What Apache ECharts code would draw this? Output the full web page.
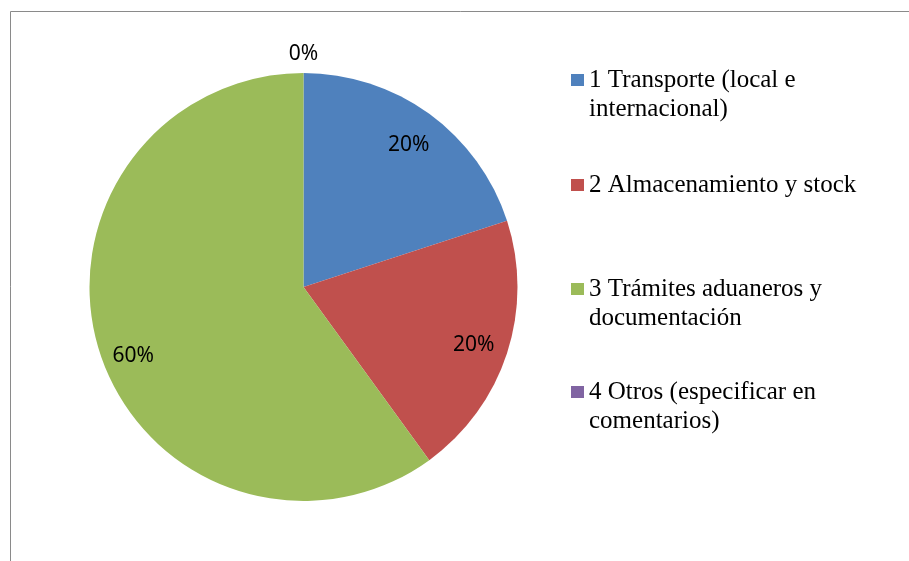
<!DOCTYPE html>
<html lang="es">
<head>
    <meta charset="UTF-8">
    <title>Pie</title>
    <script src="https://cdn.jsdelivr.net/npm/echarts@6/dist/echarts.min.js"></script>
    <style>
        body { margin: 0; background: #fff; }
    </style>
</head>
<body>
<div id="main" style="width:909px;height:561px;"></div>

<script type="text/javascript">
    // categories and values (percent of answers)
    var categories = [
        '1 Transporte (local e internacional)',
        '2 Almacenamiento y stock',
        '3 Trámites aduaneros y documentación',
        '4 Otros (especificar en comentarios)'
    ];
    var values = [20, 20, 60, 0];
    // how the legend text wraps in the original
    var legendLines = [
        ['1 Transporte (local e', 'internacional)'],
        ['2 Almacenamiento y stock'],
        ['3 Trámites aduaneros y', 'documentación'],
        ['4 Otros (especificar en', 'comentarios)']
    ];
    var colors = ['#4F81BD', '#C0504D', '#9BBB59', '#8064A2'];

    var myChart = echarts.init(document.getElementById('main'));

    var cx = 303.5, cy = 287, R = 214;
    var lineH = 29;
    var markerCenters = [80, 185, 289, 392];
    // small label nudges (Excel puts the big slice label a bit lower)
    var labelNudge = [[0, 3], [0, 3], [0, 14], [0, 3]];

    var pieData = [];
    var innerLabelData = [];
    var outerLabelData = [];
    for (var i = 0; i < categories.length; i++) {
        pieData.push({name: categories[i], value: values[i]});
        innerLabelData.push({name: categories[i], value: values[i],
            label: {show: values[i] !== 0, offset: labelNudge[i]}});
        outerLabelData.push({name: categories[i], value: values[i],
            label: {show: values[i] === 0, offset: labelNudge[i]}});
    }

    // one legend per entry so the gaps match; a blank first line keeps
    // the marker level with the first text line
    var legends = [];
    for (var j = 0; j < categories.length; j++) {
        var lines = legendLines[j].slice();
        while (lines.length < 2) lines.push(' ');
        var text = ' \n' + lines.join('\n');
        legends.push({
            orient: 'vertical',
            left: 571,
            top: markerCenters[j] - 1.5 * lineH,
            padding: 0,
            itemWidth: 13,
            itemHeight: 12,
            icon: 'rect',
            selectedMode: false,
            data: [categories[j]],
            formatter: (function (t) {
                return function () { return t; };
            })(text),
            textStyle: {
                fontFamily: 'Liberation Serif',
                fontSize: 25,
                lineHeight: lineH,
                color: '#000'
            }
        });
    }

    var labelFont = {
        fontFamily: 'Noto Sans',
        fontSize: 21,
        color: '#000',
        formatter: '{d}%'
    };

    option = {
        color: colors,
        animation: false,
        graphic: [{
            type: 'rect',
            shape: {x: 10.5, y: 11.5, width: 1000, height: 1000},
            style: {fill: 'none', stroke: '#8a8a8a', lineWidth: 1},
            silent: true,
            z: -10
        }],
        legend: legends,
        series: [
            {
                type: 'pie',
                center: [cx, cy],
                radius: R,
                startAngle: 90,
                clockwise: true,
                silent: true,
                label: {show: false},
                labelLine: {show: false},
                data: pieData
            },
            {
                // label ring: puts the inside labels at ~0.82 of the radius
                type: 'pie',
                center: [cx, cy],
                radius: [138, R],
                startAngle: 90,
                silent: true,
                itemStyle: {color: 'rgba(0,0,0,0)'},
                label: Object.assign({position: 'inside'}, labelFont),
                labelLine: {show: false},
                data: innerLabelData
            },
            {
                // outside ring for the empty slice label
                type: 'pie',
                center: [cx, cy],
                radius: [R, 252],
                startAngle: 90,
                silent: true,
                itemStyle: {color: 'rgba(0,0,0,0)'},
                label: Object.assign({position: 'inside'}, labelFont),
                labelLine: {show: false},
                data: outerLabelData
            }
        ]
    };
    myChart.setOption(option);
</script>
</body>
</html>
